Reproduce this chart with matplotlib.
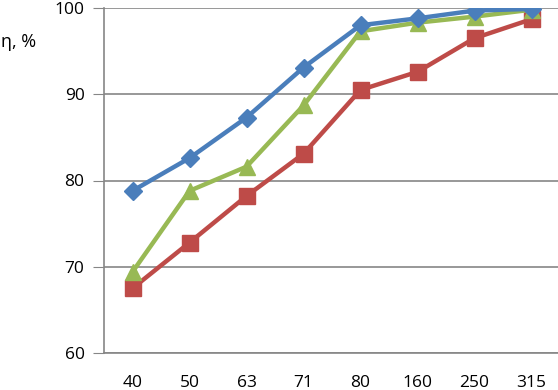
import matplotlib
matplotlib.use("Agg")
import matplotlib.pyplot as plt

categories = ["40", "50", "63", "71", "80", "160", "250", "315"]
blue = [78.8, 82.6, 87.3, 93.1, 98.0, 98.8, 99.7, 99.9]
green = [69.4, 78.8, 81.6, 88.7, 97.3, 98.3, 99.0, 99.8]
red = [67.5, 72.8, 78.2, 83.1, 90.5, 92.6, 96.5, 98.7]
yticks = [60, 70, 80, 90, 100]

plt.rcParams['font.family'] = ['Open Sans', 'DejaVu Sans']
fig = plt.figure(figsize=(5.58, 3.90), dpi=100)
ax = fig.add_axes([104/558, (390-353)/390, (560-104)/558, (353-8)/390])
x = list(range(len(categories)))
gc = '#868686'
ax.plot(x, red, color='#BE4B48', lw=3.2, marker='s', ms=11, zorder=3)
ax.plot(x, green, color='#98B954', lw=3.2, marker='^', ms=12, zorder=4)
ax.plot(x, blue, color='#4A7EBB', lw=3.2, marker='D', ms=9, zorder=5)
ax.set_xlim(-0.5, 7.5)
ax.set_ylim(60, 100)
ax.set_yticks(yticks)
ax.set_xticks(x)
ax.set_xticklabels(categories)
ax.grid(axis='y', color=gc, lw=1.2)
ax.set_axisbelow(True)
for s in ['top', 'right']:
    ax.spines[s].set_visible(False)
for s in ['left', 'bottom']:
    ax.spines[s].set_color(gc)
    ax.spines[s].set_linewidth(1.2)
ax.tick_params(axis='y', length=8, color=gc, labelsize=12.5, pad=6, direction='out')
ax.tick_params(axis='x', length=0, labelsize=12.5, pad=16)
for lab in ax.get_yticklabels() + ax.get_xticklabels():
    lab.set_clip_on(False)
fig.text(1/558, 1 - 42/390, "η, %", fontsize=13, ha='left', va='center')
fig.savefig("out.png", dpi=100)
